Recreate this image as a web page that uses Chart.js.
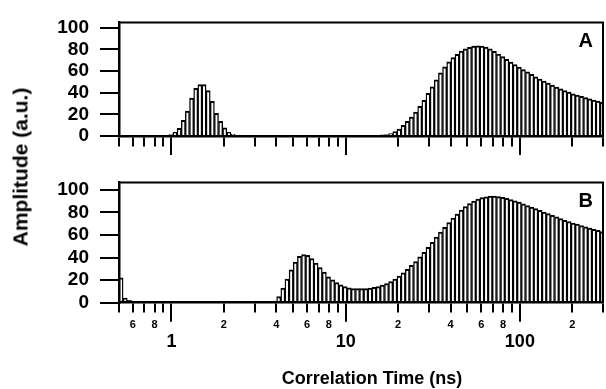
<!DOCTYPE html>
<html>
<head>
<meta charset="utf-8">
<script src="https://cdn.jsdelivr.net/npm/chart.js@4.4.0/dist/chart.umd.min.js"></script>
<style>
 body { margin: 0; background: #fff; }
 #wrap { position: relative; width: 606px; height: 389px; font-family: "Liberation Sans", Arial, sans-serif; }
 canvas { position: absolute; left: 0; }
 #chartA { top: 0; }
 #chartB { top: 160px; }
 .axisTitle { position: absolute; font-weight: bold; color: #000; white-space: nowrap; line-height: 1; }
 #yTitle { font-size: 21px; left: 20px; top: 167px; transform: translate(-50%, -50%) rotate(-90deg); }
 #xTitle { font-size: 18px; left: 372px; top: 378px; transform: translate(-50%, -50%); }
</style>
</head>
<body>
<div id="wrap">
 <canvas id="chartA" width="606" height="160"></canvas>
 <canvas id="chartB" width="606" height="229"></canvas>
 <div class="axisTitle" id="yTitle">Amplitude (a.u.)</div>
 <div class="axisTitle" id="xTitle">Correlation Time (ns)</div>
</div>
<script>
// correlation time bin centres (ns), 42 bins per decade
var tauBins = [
 0.5139, 0.5429, 0.5734, 0.6058, 0.6399, 0.6760, 0.7141, 0.7543, 0.7968, 0.8417,
 0.8891, 0.9393, 0.9922, 1.048, 1.107, 1.170, 1.235, 1.305, 1.379, 1.456,
 1.538, 1.625, 1.717, 1.813, 1.916, 2.024, 2.138, 2.258, 2.385, 2.520,
 2.662, 2.812, 2.970, 3.138, 3.314, 3.501, 3.698, 3.907, 4.127, 4.360,
 4.605, 4.865, 5.139, 5.429, 5.734, 6.058, 6.399, 6.760, 7.141, 7.543,
 7.968, 8.417, 8.891, 9.393, 9.922, 10.48, 11.07, 11.70, 12.35, 13.05,
 13.79, 14.56, 15.38, 16.25, 17.17, 18.13, 19.16, 20.24, 21.38, 22.58,
 23.85, 25.20, 26.62, 28.12, 29.70, 31.38, 33.14, 35.01, 36.98, 39.07,
 41.27, 43.60, 46.05, 48.65, 51.39, 54.29, 57.34, 60.58, 63.99, 67.60,
 71.41, 75.43, 79.68, 84.17, 88.91, 93.93, 99.22, 104.8, 110.7, 117.0,
 123.5, 130.5, 137.9, 145.6, 153.8, 162.5, 171.7, 181.3, 191.6, 202.4,
 213.8, 225.8, 238.5, 252.0, 266.2, 281.2, 297.0
];

var amplitudeA = [
 0, 0, 0, 0, 0, 0, 0, 0, 0, 0.3,
 0.4, 0.6, 1.2, 3.5, 7, 14.5, 23, 35, 44, 47.5,
 47.5, 42, 32, 21, 13.5, 7.5, 3.5, 1.5, 0.6, 0.3,
 0.2, 0, 0, 0, 0, 0, 0, 0, 0, 0,
 0, 0, 0, 0, 0, 0, 0, 0, 0, 0,
 0, 0, 0, 0.1, 0.15, 0.2, 0.25, 0.3, 0.4, 0.5,
 0.6, 0.7, 0.8, 1.0, 1.3, 2.3, 4, 6.5, 9.8, 13.5,
 17.5, 22, 27.5, 33, 39.5, 45.5, 52, 58.5, 64, 68.5,
 72.5, 75.5, 78.5, 80.5, 82, 83, 83.3, 83.2, 82.3, 80.5,
 78.3, 75.8, 73.3, 70.8, 68.3, 66, 63.7, 61.4, 59.2, 57.1,
 54.8, 52.7, 50.7, 48.8, 47, 45.3, 43.6, 42, 40.5, 39,
 37.8, 36.6, 35.4, 34.3, 33.2, 32.2, 31.2
];

var amplitudeB = [
 22, 4, 2, 1, 0.6, 0.5, 0.4, 0.4, 0.4, 0.4,
 0.4, 0.4, 0.4, 0.4, 0.4, 0.4, 0.4, 0.4, 0.4, 0.4,
 0.4, 0.4, 0.4, 0.4, 0.4, 0.4, 0.4, 0.4, 0.4, 0.4,
 0.4, 0.4, 0.4, 0.4, 0.5, 0.6, 0.8, 1.5, 5.5, 13,
 21, 29, 36, 41, 42.5, 42, 39, 35, 31, 27,
 23, 20.3, 17.8, 15.8, 14.3, 13.2, 12.6, 12.4, 12.4, 12.6,
 13, 13.5, 14.3, 15.5, 17, 18.8, 21, 23.5, 26.5, 29.5,
 33, 36.5, 40.5, 44.5, 49, 53.5, 58, 62.5, 66.8, 71,
 75, 78.5, 82, 85, 87.8, 90, 91.8, 93, 93.8, 94.3,
 94.3, 94, 93.3, 92.3, 91.3, 90.2, 89, 87.5, 86, 84.7,
 83.3, 81.8, 80.3, 78.8, 77.3, 76, 74.5, 73, 71.8, 70.5,
 69.5, 68.3, 67.2, 66, 65, 64, 63
];

var xTickValues = [0.5, 0.6, 0.7, 0.8, 0.9, 1, 2, 3, 4, 5, 6, 7, 8, 9,
 10, 20, 30, 40, 50, 60, 70, 80, 90, 100, 200, 300];
var xTickLabels = ["", "6", "", "8", "", "1", "2", "", "4", "", "6", "", "8", "",
 "10", "2", "", "4", "", "6", "", "8", "", "100", "2", ""];
var xMajorTicks = [1, 10, 100];
var yTickValues = [0, 20, 40, 60, 80, 100];

var fontFamily = '"Liberation Sans", Arial, sans-serif';

function isMajor(v) {
 return xMajorTicks.indexOf(v) >= 0;
}

// top/right frame and the A / B tag
var panelFramePlugin = {
 id: "panelFrame",
 afterDatasetsDraw: function (chart, args, opts) {
  var ctx = chart.ctx;
  var area = chart.chartArea;
  ctx.save();
  ctx.strokeStyle = "#000";
  ctx.lineWidth = 2;
  ctx.beginPath();
  ctx.moveTo(area.left, area.top);
  ctx.lineTo(area.right, area.top);
  ctx.lineTo(area.right, area.bottom);
  ctx.stroke();
  ctx.font = "bold 20px " + fontFamily;
  ctx.fillStyle = "#000";
  ctx.textAlign = "right";
  ctx.textBaseline = "middle";
  ctx.fillText(opts.text, area.right - 10, area.top + 19);
  ctx.restore();
 },
};

function makePanel(canvasId, values, yMax, tag, showXLabels, xAxisHeight, padTop) {
 return new Chart(document.getElementById(canvasId), {
  type: "bar",
  data: {
   datasets: [
    {
     data: tauBins.map(function (t, i) {
      return { x: t, y: values[i] };
     }),
     backgroundColor: "#fff",
     borderColor: "#000",
     borderWidth: { left: 1.4, right: 1.4, top: 2, bottom: 0 },
     barPercentage: 1,
     categoryPercentage: 1,
    },
   ],
  },
  options: {
   responsive: false,
   animation: false,
   layout: { padding: { top: padTop, right: 3, left: 0, bottom: 0 } },
   plugins: {
    legend: { display: false },
    tooltip: { enabled: false },
    panelFrame: { text: tag },
   },
   scales: {
    x: {
     type: "logarithmic",
     min: 0.5,
     max: 300,
     bounds: "data",
     offset: false,
     grid: {
      offset: false,
      drawOnChartArea: false,
      tickLength: 19,
      color: "#000",
      lineWidth: 2,
      tickBorderDash: function (ctx) {
       return ctx.tick && isMajor(ctx.tick.value) ? [] : [9, 40];
      },
     },
     border: { color: "#000", width: 2.5, z: 1 },
     afterBuildTicks: function (scale) {
      scale.ticks = xTickValues.map(function (v) {
       return { value: v };
      });
     },
     afterFit: function (scale) {
      scale.height = xAxisHeight;
     },
     ticks: {
      display: showXLabels,
      autoSkip: false,
      maxRotation: 0,
      minRotation: 0,
      color: "#000",
      padding: -3,
      callback: function (value, index) {
       var s = xTickLabels[index];
       return isMajor(value) ? ["", s] : s;
      },
      font: function (ctx) {
       if (ctx.tick && isMajor(ctx.tick.value)) {
        return { family: fontFamily, size: 18, weight: "bold", lineHeight: 0.86 };
       }
       return { family: fontFamily, size: 11, weight: "bold", lineHeight: 1.2 };
      },
     },
    },
    y: {
     min: 0,
     max: yMax,
     grid: { drawOnChartArea: false, tickLength: 19, color: "#000", lineWidth: 2 },
     border: { color: "#000", width: 2.5, z: 1 },
     afterBuildTicks: function (scale) {
      scale.ticks = yTickValues.map(function (v) {
       return { value: v };
      });
     },
     afterFit: function (scale) {
      scale.width = 119;
     },
     ticks: {
      autoSkip: false,
      color: "#000",
      padding: 11,
      font: { family: fontFamily, size: 19, weight: "bold" },
     },
    },
   },
  },
  plugins: [panelFramePlugin],
 });
}

makePanel("chartA", amplitudeA, 105, "A", false, 24, 16);
makePanel("chartB", amplitudeB, 106.5, "B", true, 86.3, 21);
</script>
</body>
</html>
